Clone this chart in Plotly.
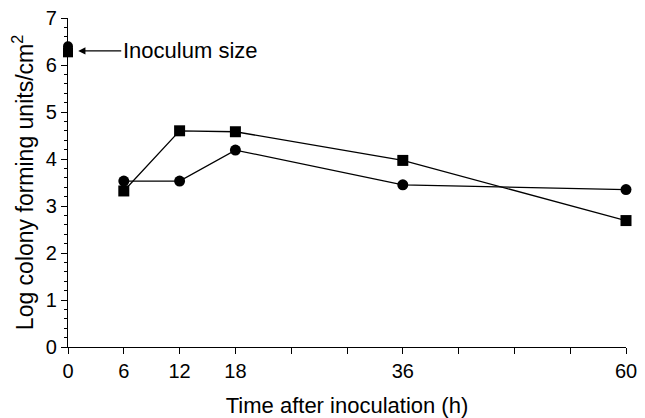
import plotly.graph_objects as go

# Data
times = [6, 12, 18, 36, 60]
circle_vals = [3.53, 3.53, 4.19, 3.45, 3.35]
square_vals = [3.32, 4.60, 4.58, 3.97, 2.69]
inoc_time = [0]
inoc_circle = [6.40]
inoc_square = [6.27]
x_tickvals = [0, 6, 12, 18, 24, 30, 36, 42, 48, 54, 60]
x_ticktext = ["0", "6", "12", "18", "", "", "36", "", "", "", "60"]
y_tickvals = [0, 1, 2, 3, 4, 5, 6, 7]

FONT = "Liberation Sans, Arial, Helvetica, sans-serif"

fig = go.Figure()
fig.add_trace(go.Scatter(x=times, y=circle_vals, mode="lines+markers",
                         line=dict(color="black", width=1.3),
                         marker=dict(symbol="circle", size=11, color="black"),
                         cliponaxis=False, showlegend=False))
fig.add_trace(go.Scatter(x=times, y=square_vals, mode="lines+markers",
                         line=dict(color="black", width=1.3),
                         marker=dict(symbol="square", size=11, color="black"),
                         cliponaxis=False, showlegend=False))
fig.add_trace(go.Scatter(x=inoc_time, y=inoc_circle, mode="markers",
                         marker=dict(symbol="circle", size=10, color="black"),
                         cliponaxis=False, showlegend=False))
fig.add_trace(go.Scatter(x=inoc_time, y=inoc_square, mode="markers",
                         marker=dict(symbol="square", size=10, color="black"),
                         cliponaxis=False, showlegend=False))

fig.add_annotation(x=1.1, y=6.3, xref="x", yref="y",
                   text="Inoculum size", showarrow=True,
                   ax=112, ay=0, axref="pixel", ayref="pixel",
                   arrowhead=2, arrowsize=1.2, arrowwidth=1.2, arrowcolor="black",
                   font=dict(family=FONT, size=22, color="black"))

# the page body has an 8px margin, so the figure is sized/offset for it
fig.update_layout(
    width=637, height=410,
    margin=dict(l=60, r=19, t=10, b=71),
    paper_bgcolor="white", plot_bgcolor="white",
    font=dict(family=FONT, size=20, color="black"),
    xaxis=dict(range=[0, 60], tickmode="array", tickvals=x_tickvals, ticktext=x_ticktext,
               automargin=False, ticklabeloverflow="allow",
               showgrid=False, zeroline=False, showline=True, linecolor="black", linewidth=1.3,
               ticks="outside", ticklen=6, tickwidth=1.2, tickcolor="black",
               tickfont=dict(size=20),
               title=dict(text="Time after inoculation (h)", font=dict(size=22), standoff=16)),
    yaxis=dict(range=[0, 7], tickmode="array", tickvals=y_tickvals,
               automargin=False, ticklabeloverflow="allow",
               showgrid=False, zeroline=False, showline=True, linecolor="black", linewidth=1.3,
               ticks="outside", ticklen=6, tickwidth=1.2, tickcolor="black",
               tickfont=dict(size=20),
               minor=dict(dtick=0.2, ticks="outside", ticklen=3, tickwidth=1, tickcolor="black", showgrid=False),
               title=dict(text="Log colony forming units/cm<sup>2</sup>", font=dict(size=23), standoff=8)),
)

fig.write_html("out.html")
